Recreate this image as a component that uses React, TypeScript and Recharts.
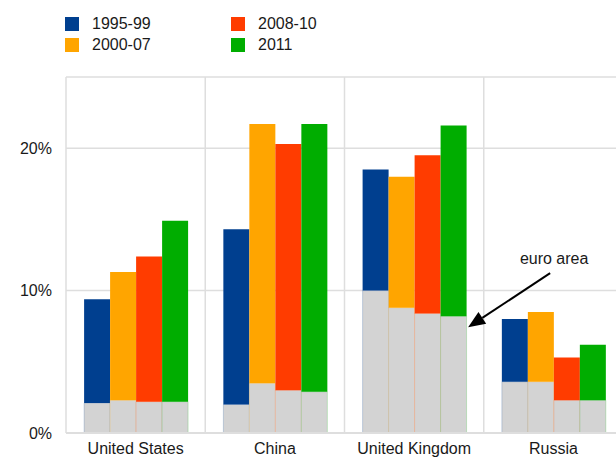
import React from 'react';
import { BarChart, Bar, XAxis, YAxis, CartesianGrid, ReferenceDot } from 'recharts';

const countries = ['United States', 'China', 'United Kingdom', 'Russia'];
const periods = ['1995-99', '2000-07', '2008-10', '2011'];
const periodColors = ['#003f8f', '#ffa500', '#ff3c00', '#00ad00'];

// total share per country, one array per period (%)
const total9599 = [9.4, 14.3, 18.5, 8.0];
const total0007 = [11.3, 21.7, 18.0, 8.5];
const total0810 = [12.4, 20.3, 19.5, 5.3];
const total2011 = [14.9, 21.7, 21.6, 6.2];

// euro area portion of each bar (%)
const euro9599 = [2.1, 2.0, 10.0, 3.6];
const euro0007 = [2.3, 3.5, 8.8, 3.6];
const euro0810 = [2.2, 3.0, 8.4, 2.3];
const euro2011 = [2.2, 2.9, 8.2, 2.3];

const yTicks = [0, 10, 20];

const totals = [total9599, total0007, total0810, total2011];
const euros = [euro9599, euro0007, euro0810, euro2011];

const chartData = countries.map((name, i) => {
  const row: Record<string, number | string> = { name };
  periods.forEach((_, p) => {
    row[`euro${p}`] = euros[p][i];
    row[`rest${p}`] = +(totals[p][i] - euros[p][i]).toFixed(2);
  });
  return row;
});

const font = '"Liberation Sans", Arial, sans-serif';
const gridColor = '#dedede';

// arrow pointing at the euro area part of the UK 2011 bar; cx is the band centre
const EuroArrow = (props: any) => {
  const tx = props.cx + 54;
  const ty = props.cy;
  const sx = tx + 82;
  const sy = ty - 54;
  const ang = Math.atan2(ty - sy, tx - sx);
  const len = 17;
  const half = 7;
  const bx = tx - len * Math.cos(ang);
  const by = ty - len * Math.sin(ang);
  const px = -Math.sin(ang) * half;
  const py = Math.cos(ang) * half;
  return (
    <g>
      <line x1={sx} y1={sy} x2={bx} y2={by} stroke="#000" strokeWidth={2} />
      <polygon points={`${tx},${ty} ${bx + px},${by + py} ${bx - px},${by - py}`} fill="#000" />
      <text x={tx + 86} y={ty - 69} textAnchor="middle" dominantBaseline="central" fontSize={16} fill="#1a1a1a" fontFamily={font}>
        euro area
      </text>
    </g>
  );
};

const Legend = () => (
  <div style={{ position: 'absolute', left: 0, top: 0, width: 616, height: 60, fontFamily: font, fontSize: 16, color: '#1a1a1a' }}>
    {periods.map((p, i) => {
      const col = i < 2 ? 0 : 1;
      const row = i % 2;
      return (
        <div key={p} style={{ position: 'absolute', left: 65 + col * 166, top: 17 + row * 21, display: 'flex', alignItems: 'center', height: 14 }}>
          <span style={{ width: 14, height: 14, background: periodColors[i], display: 'inline-block' }} />
          <span style={{ marginLeft: 13, lineHeight: '14px' }}>{p}</span>
        </div>
      );
    })}
  </div>
);

export default function App() {
  return (
    <div style={{ position: 'absolute', left: 0, top: 0, width: 616, height: 461, overflow: 'hidden', background: '#fff' }}>
      <Legend />
      <BarChart
        width={623}
        height={461}
        data={chartData}
        margin={{ top: 77, right: 0, bottom: 0, left: 0 }}
        barCategoryGap="13%"
        barGap={0}
        style={{ position: 'absolute', left: 0, top: 0 }}
      >
        <CartesianGrid
          stroke={gridColor}
          strokeWidth={1.5}
          verticalCoordinatesGenerator={({ offset }: any) =>
            countries.map((_, i) => offset.left + (i * offset.width) / countries.length).concat(offset.left + offset.width)
          }
        />
        <XAxis
          dataKey="name"
          height={28}
          tickSize={0}
          tickMargin={10}
          axisLine={{ stroke: gridColor, strokeWidth: 2 }}
          tick={{ fontSize: 16, fill: '#1a1a1a', fontFamily: font }}
        />
        <YAxis
          width={66}
          domain={[0, 25]}
          ticks={yTicks}
          axisLine={false}
          tickSize={0}
          tickMargin={14}
          tickFormatter={(v: number) => `${v}%`}
          tick={{ fontSize: 16, fill: '#1a1a1a', fontFamily: font }}
        />
        {periods.map((p, i) => [
          <Bar
            key={`euro${i}`}
            dataKey={`euro${i}`}
            stackId={`s${i}`}
            fill="#d3d3d3"
            stroke={periodColors[i]}
            strokeOpacity={0.2}
            isAnimationActive={false}
          />,
          <Bar
            key={`rest${i}`}
            dataKey={`rest${i}`}
            stackId={`s${i}`}
            fill={periodColors[i]}
            isAnimationActive={false}
          />,
        ])}
        <ReferenceDot x="United Kingdom" y={7.43} r={0} shape={EuroArrow} />
      </BarChart>
    </div>
  );
}
